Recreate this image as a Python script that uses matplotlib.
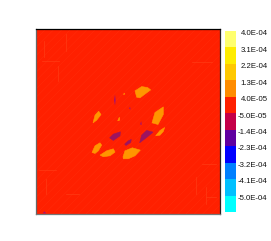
import numpy as np
import matplotlib
matplotlib.use("Agg")
import matplotlib.pyplot as plt
from matplotlib.colors import ListedColormap, BoundaryNorm
from matplotlib.patches import Rectangle
from matplotlib.transforms import ScaledTranslation

plt.rcParams['font.family'] = ['Liberation Sans', 'DejaVu Sans']
plt.rcParams['hatch.linewidth'] = 0.4

level_values = [4.0e-4, 3.1e-4, 2.2e-4, 1.3e-4, 4.0e-5, -5.0e-5, -1.4e-4, -2.3e-4, -3.2e-4, -4.1e-4, -5.0e-4]
level_labels = ['4.0E-04', '3.1E-04', '2.2E-04', '1.3E-04', '4.0E-05', '-5.0E-05',
                '-1.4E-04', '-2.3E-04', '-3.2E-04', '-4.1E-04', '-5.0E-04']
level_colors = ['#ffff6e', '#ffec00', '#ffc800', '#ff8c00', '#ff2000', '#c40048',
                '#6000a0', '#0000ff', '#0080ff', '#00c0ff', '#00ffff']
lowest_edge = -5.9e-4

orange_blobs = [
    [(298, 369), (318, 382), (336, 379), (345, 372), (313, 348), (303, 350)],
    [(349, 273), (358, 304), (383, 321), (383, 298), (367, 268)],
    [(360, 234), (373, 250), (387, 259), (383, 247), (373, 236)],
    [(172, 273), (178, 296), (189, 308), (196, 298), (183, 281)],
    [(169, 184), (178, 204), (193, 213), (198, 206), (188, 189), (178, 181)],
    [(193, 176), (213, 189), (233, 195), (238, 185), (223, 174), (203, 171)],
    [(262, 171), (268, 189), (290, 198), (314, 191), (298, 174), (278, 165), (263, 165)],
    [(246, 279), (251, 290), (252, 281)],
    [(263, 359), (267, 362), (266, 358)],
]
crimson_blobs = [
    [(222, 228), (233, 239), (254, 246), (253, 234), (233, 220)],
    [(267, 209), (278, 219), (287, 223), (285, 214), (271, 205)],
    [(312, 213), (318, 236), (333, 250), (352, 245), (333, 229)],
]
violet_blobs = [
    [(235, 341), (238, 358), (240, 341), (238, 325)],
    [(280, 316), (283, 321), (285, 313)],
    [(313, 269), (317, 278), (318, 266)],
    [(21, 1), (26, 7), (32, 1)],
]
blob_colors = ['#ff9600', '#9c1460', '#a81070']
blob_edges = [0.4, 0.4, 0.0]
faint_x_lines = [(68, 400, 445), (30, 60, 105), (480, 60, 110), (25, 470, 520), (90, 490, 540), (512, 30, 80)]
faint_y_lines = [(460, 20, 70), (130, 10, 60), (455, 470, 530), (50, 510, 540), (150, 500, 540), (60, 90, 130)]
field_size = 554

fig = plt.figure(figsize=(2.71, 2.41), dpi=100)
W, H = 271, 241
ax = fig.add_axes([35.7 / W, 1 - 213.7 / H, 184.6 / W, 184.4 / H])
ax.set_xlim(0, field_size)
ax.set_ylim(0, field_size)
ax.set_facecolor('#ff2000')
ax.add_patch(Rectangle((0, 0), field_size, field_size, facecolor='none',
                       edgecolor='#ff2a08', hatch='////', lw=0))
for x, y0, y1 in faint_x_lines:
    ax.plot([x, x], [y0, y1], color='#ff3a14', lw=0.5, zorder=2)
for y, x0, x1 in faint_y_lines:
    ax.plot([x0, x1], [y, y], color='#ff3a14', lw=0.5, zorder=2)
for group, col, edge in zip([orange_blobs, crimson_blobs, violet_blobs], blob_colors, blob_edges):
    for poly in group:
        xs, ys = zip(*poly)
        ax.fill(xs, ys, facecolor=col, edgecolor=col, lw=edge, zorder=3)
ax.set_xticks([])
ax.set_yticks([])
for side, col in zip(['top', 'right', 'left', 'bottom'], ['black', '#222222', '#666666', '#777777']):
    ax.spines[side].set_color(col)
    ax.spines[side].set_linewidth(0.9)

cax = fig.add_axes([225 / W, 1 - 212 / H, 11 / W, 181 / H])
edges = np.array([lowest_edge] + level_values[::-1])
cmap = ListedColormap(level_colors[::-1])
norm = BoundaryNorm(edges, cmap.N)
mid = (edges[:-1] + edges[1:]) / 2
cax.pcolormesh([0, 1], edges, mid[:, None], cmap=cmap, norm=norm)
cax.set_xticks([])
cax.yaxis.tick_right()
cax.set_yticks(level_values)
cax.set_yticklabels(level_labels, fontsize=5.6, ha='right', color='#111111')
cax.tick_params(axis='y', length=0, pad=22.7)
shift = ScaledTranslation(0, -1.3 / 72, fig.dpi_scale_trans)
for lab in cax.get_yticklabels():
    lab.set_transform(lab.get_transform() + shift)
cax.set_ylim(lowest_edge, 4.0e-4)
for s in cax.spines.values():
    s.set_visible(False)

fig.savefig('out.png', dpi=100)
